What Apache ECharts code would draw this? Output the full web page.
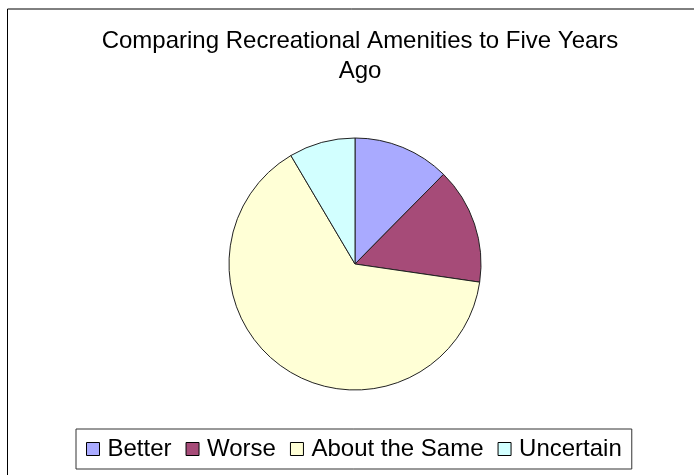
<!DOCTYPE html>
<html>
<head>
<meta charset="utf-8">
<script src="https://cdn.jsdelivr.net/npm/echarts@6/dist/echarts.min.js"></script>
<style>html,body{margin:0;padding:0;background:#fff;}#c{width:694px;height:475px;}</style>
</head>
<body>
<div id="c"></div>
<script>
const titleText = "Comparing Recreational Amenities to Five Years\nAgo";
const categories = ["Better", "Worse", "About the Same", "Uncertain"];
const values = [12.4, 14.9, 64.2, 8.5];
const colors = ["#A9AAFF", "#A64B78", "#FFFFD6", "#D2FFFF"];

const chart = echarts.init(document.getElementById('c'), null, {renderer: 'canvas'});
chart.setOption({
  animation: false,
  backgroundColor: '#ffffff',
  graphic: [
    {type: 'line', shape: {x1: 7.5, y1: 9, x2: 700, y2: 9}, style: {stroke: '#000', lineWidth: 1}, z: -1},
    {type: 'line', shape: {x1: 7.5, y1: 9, x2: 7.5, y2: 480}, style: {stroke: '#000', lineWidth: 1}, z: -1}
  ],
  title: {
    text: titleText,
    left: 355, top: 21,
    textAlign: 'center',
    textStyle: {fontFamily: 'Liberation Sans, Arial', fontSize: 24, fontWeight: 'normal', color: '#000', lineHeight: 30}
  },
  legend: {
    data: categories,
    top: 429,
    left: 76,
    icon: 'rect',
    itemWidth: 13, itemHeight: 13,
    itemGap: 14,
    padding: [8, 10, 8, 10],
    borderColor: '#333', borderWidth: 1,
    textStyle: {fontFamily: 'Liberation Sans, Arial', fontSize: 24, color: '#000', padding: [0, 0, 0, 3]},
    itemStyle: {borderColor: '#000', borderWidth: 1}
  },
  series: [{
    type: 'pie',
    center: [355, 264],
    radius: 126,
    startAngle: 90,
    clockwise: true,
    label: {show: false},
    labelLine: {show: false},
    emphasis: {disabled: true},
    itemStyle: {borderColor: '#222', borderWidth: 1},
    data: categories.map((c, i) => ({name: c, value: values[i], itemStyle: {color: colors[i]}}))
  }]
});
</script>
</body>
</html>
